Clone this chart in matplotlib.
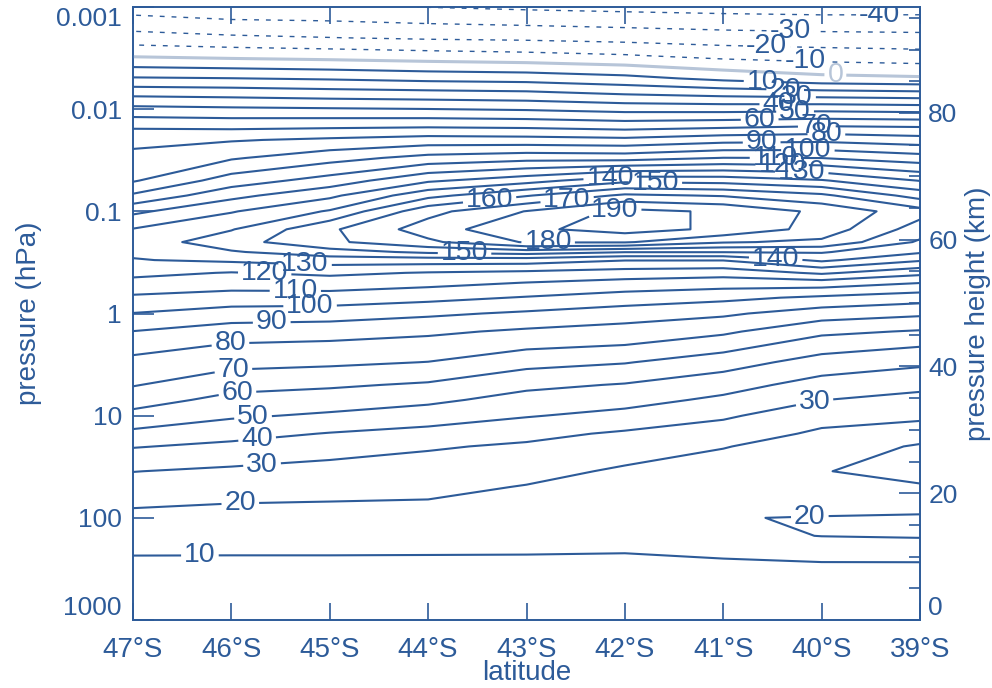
import numpy as np
import matplotlib
matplotlib.use("Agg")
import matplotlib.pyplot as plt
from matplotlib.ticker import FixedLocator, MultipleLocator, NullLocator

plt.rcParams['font.family'] = ['Liberation Sans', 'DejaVu Sans']
plt.rcParams['lines.scale_dashes'] = False

INK = '#2d5b99'
ZERO_INK = '#b7c5d8'

latitudes = [-47, -46, -45, -44, -43, -42, -41, -40, -39]

pressure_hpa = [1000, 500, 300, 200, 150, 100, 70, 50, 35, 20, 15, 10, 7, 5, 3, 2, 1.5,
                1, 0.7, 0.5, 0.4, 0.3, 0.25, 0.2, 0.15, 0.1, 0.07, 0.05, 0.03, 0.02,
                0.015, 0.01, 0.007, 0.005, 0.003, 0.002, 0.001]

# zonal wind (m/s), one profile per latitude, from 1000 hPa up to 0.001 hPa
wind_47s = [2, 5, 7.8, 11.4, 14.1, 17.8, 21.4, 25.6, 30.2, 40.6, 47.6, 57, 64.3, 70.6, 77.4, 84,
            89.8, 99.7, 108.3, 117, 122.6, 129.5, 131.6, 134, 130.5, 117.8, 101.5, 89, 83, 77,
            69, 53, 37, 21, -1, -16, -35]
wind_46s = [2, 5, 8, 11.2, 13.7, 17.1, 20.3, 24.1, 28.2, 37.8, 43.3, 51.4, 57.1, 63.3, 73.2, 79.6,
            85.2, 95.4, 106, 114.5, 119.5, 131.8, 139, 146, 139.4, 129.2, 117, 104.7, 88.9, 79.2,
            68.2, 51.8, 36, 20.2, -2.7, -18.3, -38]
wind_45s = [2, 5, 8, 11.2, 13.5, 17, 19.9, 23.2, 26.6, 34.1, 39.5, 48.5, 55.2, 61.4, 71.9, 78.5,
            84.3, 94.6, 105.7, 115.3, 122, 135, 146, 158, 158.3, 141, 127.7, 114.2, 96.2, 81.7,
            69, 51, 34.4, 18.9, -4, -19.8, -38.4]
wind_44s = [2, 5, 8, 11.1, 13.4, 16.6, 19.5, 22.4, 25.5, 31, 36.7, 45, 52.2, 58.7, 69.8, 76.7,
            81.8, 91.8, 102.9, 113, 119.4, 135, 152, 168, 175, 166.7, 146.9, 128.4, 103.3, 84.4,
            69.8, 50.2, 33.3, 17, -5.6, -21.3, -40.2]
wind_43s = [2, 5, 8, 11, 12.7, 15.2, 17.4, 19.5, 22.8, 28.6, 32.7, 40.7, 46.4, 52.3, 63.3, 72.7,
            78.4, 88.5, 99.3, 109.8, 117.7, 135, 155, 181, 188, 180.4, 159.2, 136, 106.3, 83.8,
            69, 49, 32.2, 16, -7, -22.1, -41.8]
wind_42s = [2, 5, 8, 10.7, 12, 13.9, 15.5, 17, 18.7, 24.3, 28.6, 37, 43.7, 49.3, 60.6, 70.4,
            75.9, 85, 95.4, 106.9, 115.5, 130.5, 150.5, 181, 194, 193, 171.9, 147.2, 105.7, 82.5,
            67, 46.7, 28.9, 13, -9.1, -23.6, -43]
wind_41s = [2, 5, 8, 12.5, 17.5, 19.7, 17, 17.5, 18, 20.2, 24.6, 31.6, 38, 44, 54.4, 64.7,
            71.8, 81.7, 92.5, 105, 114, 130.5, 150.5, 171, 188, 188.5, 169.2, 146, 110.2, 86.3,
            69, 46.3, 26.3, 7.5, -12.9, -25.3, -44]
wind_40s = [2, 5, 8.5, 14.5, 20.2, 20.4, 16.5, 18, 19.7, 18, 18.5, 23.3, 30.2, 36, 45.9, 55,
            62.3, 75, 88.2, 105.7, 121.7, 142, 151, 168, 176, 177.6, 162.1, 140.9, 109.8, 87.5,
            71.3, 47.1, 24.3, 2.9, -14.7, -26.3, -44.7]
wind_39s = [2, 5, 8.5, 14.7, 21, 20.8, 17.2, 19.3, 22.4, 20.4, 18.3, 20.7, 26.9, 32.7, 42, 51.3,
            59.1, 71.9, 84.5, 100.3, 112.9, 131.3, 141.3, 148.5, 155.2, 164, 146, 129.6, 104.4, 84.4,
            70.2, 46, 22.9, 1.4, -16, -27, -44.4]

lat_ticks = [-47, -46, -45, -44, -43, -42, -41, -40, -39]
pressure_ticks = [1000, 100, 10, 1, 0.1, 0.01, 0.001]
pressure_tick_labels = ['1000', '100', '10', '1', '0.1', '0.01', '0.001']
height_ticks = [0, 20, 40, 60, 80]

negative_levels = [-40, -30, -20, -10]
zero_level = 0
positive_levels = list(range(10, 200, 10))

# where each contour label sits: (level, latitude, pressure in hPa)
label_spots = [
    (-40, -39.41, 0.0012), (-30, -40.32, 0.00168), (-20, -40.56, 0.00247),
    (-10, -40.17, 0.00346), (0, -39.86, 0.00443),
    (10, -40.6, 0.0052), (20, -40.37, 0.0062), (30, -40.25, 0.0072),
    (40, -40.44, 0.0087), (50, -40.27, 0.0102), (60, -40.63, 0.0122),
    (70, -40.05, 0.0125), (80, -39.95, 0.0145), (90, -40.61, 0.0179),
    (100, -40.14, 0.0191), (110, -40.47, 0.0235), (120, -40.4, 0.028),
    (130, -40.2, 0.033),
    (140, -42.15, 0.046), (150, -41.69, 0.049), (160, -43.38, 0.069),
    (170, -42.59, 0.072), (190, -42.1, 0.104), (180, -42.78, 0.191),
    (150, -43.63, 0.268), (140, -40.47, 0.335), (130, -45.25, 0.313),
    (120, -45.66, 0.375), (110, -45.35, 0.616), (100, -45.2, 0.845),
    (90, -45.59, 1.16), (80, -46.01, 1.95), (70, -45.98, 3.57),
    (60, -45.94, 5.61), (50, -45.78, 10.3), (40, -45.74, 16.2),
    (30, -45.69, 28.4), (30, -40.07, 7.5), (20, -45.91, 67),
    (20, -40.12, 98), (10, -46.32, 216),
]

SCALE_HEIGHT_KM = 7.0


def height_km(p):
    return SCALE_HEIGHT_KM * np.log(1000.0 / np.asarray(p, dtype=float))


wind = np.column_stack([wind_47s, wind_46s, wind_45s, wind_44s, wind_43s,
                        wind_42s, wind_41s, wind_40s, wind_39s])
heights = height_km(pressure_hpa)
top_km = float(height_km(0.001))

fig = plt.figure(figsize=(9.92, 6.88), dpi=100)
ax = fig.add_axes([133 / 992, 68 / 688, 787 / 992, 613 / 688])
ax.set_yscale('log')
ax.set_xlim(-47, -39)
ax.set_ylim(1000, 0.001)

ax2 = ax.twinx()

# one contour set per level, so every label can be pinned to its own level
contours = {}
for lev in negative_levels:
    contours[lev] = ax2.contour(latitudes, heights, wind, levels=[lev], colors=INK,
                                linewidths=1.0, linestyles=[(0, (3.5, 5.0))])
contours[zero_level] = ax2.contour(latitudes, heights, wind, levels=[zero_level],
                                   colors=ZERO_INK, linewidths=2.2, linestyles='solid')
for lev in positive_levels:
    contours[lev] = ax2.contour(latitudes, heights, wind, levels=[lev], colors=INK,
                                linewidths=1.5, linestyles='solid')
ax2.set_xlim(-47, -39)
ax2.set_ylim(0, top_km)

for level, lat, p in label_spots:
    contours[level].clabel(manual=[(lat, float(height_km(p)))], fmt='%d', fontsize=20.5,
                           inline=True, inline_spacing=3)

for cs in contours.values():
    for t in cs.labelTexts:
        t.set_rotation(0)

# latitude axis
ax.xaxis.set_major_locator(FixedLocator(lat_ticks))
ax.set_xticklabels([f'{-v}\u00b0S' for v in lat_ticks])
ax.tick_params(axis='x', which='major', direction='in', top=True, bottom=True,
               length=12, width=1.2, colors=INK, labelsize=20, pad=12)
ax.set_xlabel('latitude', fontsize=20, color=INK, labelpad=-2)

# pressure axis
ax.yaxis.set_major_locator(FixedLocator(pressure_ticks))
ax.yaxis.set_minor_locator(NullLocator())
ax.set_yticklabels(pressure_tick_labels)
ax.tick_params(axis='y', which='major', direction='in', left=True, right=False,
               length=15, width=1.2, colors=INK, labelsize=19, pad=8)
ax.set_ylabel('pressure (hPa)', fontsize=20, color=INK, labelpad=10)
p_labels = ax.get_yticklabels()
p_labels[0].set_verticalalignment('bottom')
p_labels[-1].set_verticalalignment('top')

# height axis
ax2.yaxis.set_major_locator(FixedLocator(height_ticks))
ax2.yaxis.set_minor_locator(MultipleLocator(5))
ax2.tick_params(axis='y', which='major', direction='in', length=15, width=1.2,
                colors=INK, labelsize=19, pad=6)
ax2.tick_params(axis='y', which='minor', direction='in', length=8, width=1.2, colors=INK)
ax2.set_ylabel('pressure height (km)', fontsize=20, color=INK, rotation=90, labelpad=5)
z_labels = ax2.get_yticklabels()
z_labels[0].set_verticalalignment('bottom')

for a in (ax, ax2):
    for s in a.spines.values():
        s.set_color(INK)
        s.set_linewidth(1.2)

fig.savefig('out.png', dpi=100, facecolor='white')
